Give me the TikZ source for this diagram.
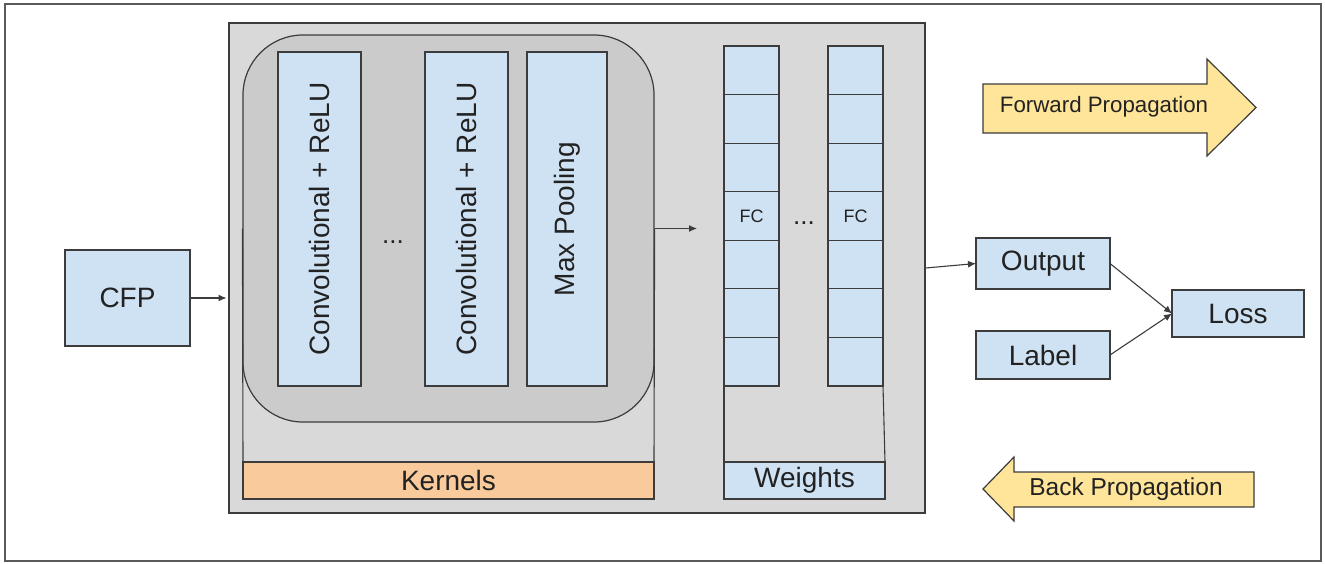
\documentclass[tikz,border=0pt]{standalone}
\usepackage{fontspec}
\setmainfont{Liberation Sans}
\usetikzlibrary{arrows.meta}
\definecolor{bordc}{HTML}{3C3C3C}
\definecolor{outerc}{HTML}{5A5A5A}
\definecolor{stagefill}{HTML}{D9D9D9}
\definecolor{roundfill}{HTML}{CBCBCB}
\definecolor{bluefill}{HTML}{CFE2F3}
\definecolor{orangefill}{HTML}{F9CB9C}
\definecolor{yellowfill}{HTML}{FFE599}
\definecolor{txtc}{HTML}{222222}
\tikzset{
  box/.style={draw=bordc, line width=1.2pt, fill=bluefill, inner sep=0pt, outer sep=0pt,
    text=txtc, font=\fontsize{28}{30}\selectfont},
  fccell/.style={box, minimum width=55pt, minimum height=48.57pt, font=\fontsize{18}{20}\selectfont},
  conn/.style={draw=bordc, line width=1.1pt},
  arr/.style={conn, -{Latex[length=8pt,width=7pt]}},
  bigarrow/.style={draw=bordc, line width=1.2pt, fill=yellowfill, line join=miter},
}
\begin{document}
\begin{tikzpicture}[x=1pt, y=-1pt]
\useasboundingbox (0,0) rectangle (1325,563);
\draw[draw=outerc, line width=1.5pt, fill=white] (5,4) rectangle (1321,561);

% main stage
\node[draw=bordc, line width=1.2pt, fill=stagefill, minimum width=696pt, minimum height=490pt, inner sep=0pt] (stage) at (577,268) {};

% rounded conv group
\node[draw=bordc, line width=1.2pt, fill=roundfill, rounded corners=60pt, minimum width=411pt, minimum height=387pt, inner sep=0pt] (rbox) at (448.5,228.5) {};

\node[box, minimum width=83pt, minimum height=334pt] (conv1) at (319.5,219) {\rotatebox{90}{Convolutional + ReLU}};
\node[box, minimum width=83pt, minimum height=334pt] (conv2) at (466.5,219) {\rotatebox{90}{Convolutional + ReLU}};
\node[box, minimum width=80pt, minimum height=334pt] (pool) at (567,219) {\rotatebox{90}{Max Pooling}};
\node[text=txtc, font=\fontsize{26}{28}\selectfont, inner sep=0pt] (dots1) at (393,242) {...};

% kernels
\node[box, fill=orangefill, minimum width=411pt, minimum height=37pt] (kern) at (448.5,480.5) {Kernels};
\draw[conn] (kern.north west) -- (rbox.west);
\draw[conn] (kern.north east) -- (rbox.east);

% FC columns
\foreach \i in {1,...,7}{
  \pgfmathsetmacro{\yy}{46+48.57*(\i-0.5)}
  \node[fccell] (ca\i) at (751.5,\yy) {};
  \node[fccell] (cb\i) at (855.5,\yy) {};
}
\node[text=txtc, font=\fontsize{18}{20}\selectfont] at (ca4) {FC};
\node[text=txtc, font=\fontsize{18}{20}\selectfont] at (cb4) {FC};
\node[text=txtc, font=\fontsize{26}{28}\selectfont, inner sep=0pt] (dots2) at (804,223) {...};

% weights
\node[box, minimum width=161pt, minimum height=37pt] (wts) at (804.5,480.5) {Weights};
\draw[conn] (ca7.south west) -- (wts.north west);
\draw[conn] (cb7.south east) -- (wts.north east);

% arrow to FC
\coordinate (fcin) at (697,228.5);
\draw[arr] (rbox.east) -- (fcin);

% CFP
\node[box, minimum width=125pt, minimum height=96pt] (cfp) at (127.5,298) {CFP};
\coordinate (stin) at (226.5,298);
\draw[arr] (cfp.east) -- (stin);

% outputs
\node[box, minimum width=134pt, minimum height=51pt] (out) at (1043,263.5) {Output};
\node[box, minimum width=134pt, minimum height=48pt] (lab) at (1043,355) {Label};
\node[box, minimum width=132pt, minimum height=47pt] (loss) at (1238,313.5) {Loss};
\draw[arr] (stage.east) -- (out.west);
\draw[arr] (out.east) -- (loss.west);
\draw[arr] (lab.east) -- (loss.west);

% propagation arrows
\draw[bigarrow] (983,84) -- (1207,84) -- (1207,59) -- (1256,107.5) -- (1207,156) -- (1207,133) -- (983,133) -- cycle;
\node[text=txtc, font=\fontsize{22.3}{24}\selectfont] (fwd) at (1104,107) {Forward Propagation};
\draw[bigarrow] (1254,472) -- (1014,472) -- (1014,457) -- (983,489) -- (1014,521) -- (1014,507) -- (1254,507) -- cycle;
\node[text=txtc, font=\fontsize{24.5}{26}\selectfont] (bwd) at (1126,489.5) {Back Propagation};
\end{tikzpicture}
\end{document}
